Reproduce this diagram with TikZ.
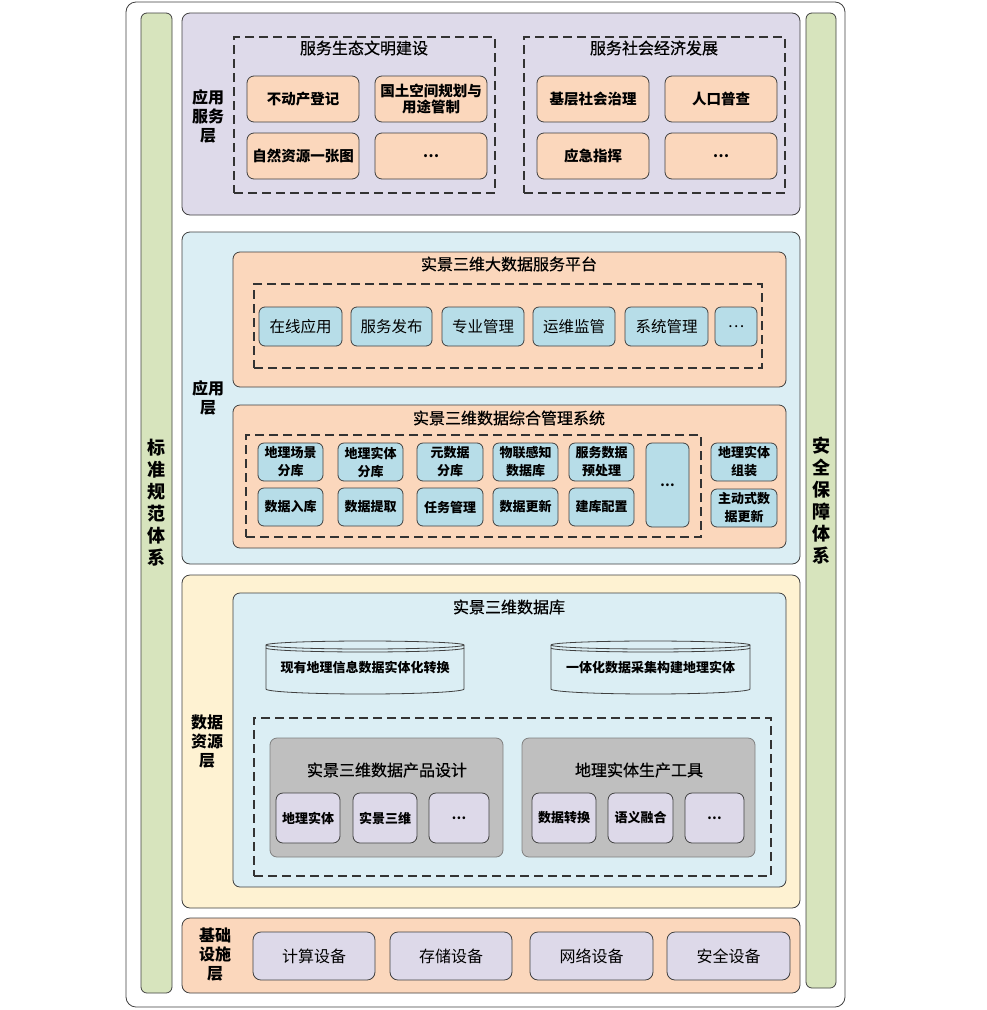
\documentclass[tikz,border=0pt]{standalone}
\usepackage{fontspec}
\setmainfont{Noto Sans CJK SC}
\newfontfamily\medfont[FakeBold=0.6]{Noto Sans CJK SC}
\definecolor{dk}{HTML}{404040}
\definecolor{grn}{HTML}{D7E4BD}
\definecolor{lav}{HTML}{DEDAEA}
\definecolor{org}{HTML}{FBD7BC}
\definecolor{lbl}{HTML}{DBEEF4}
\definecolor{blu}{HTML}{B7DDE8}
\definecolor{ylw}{HTML}{FEF2D2}
\definecolor{gry}{HTML}{BFBFBF}
\definecolor{lavb}{HTML}{DDD9E9}
\newcommand\fs[2]{\fontsize{#1}{#2}\selectfont}
\newcommand\bx[7]{\node[#6, minimum width={(#4-#2)*1pt}, minimum height={(#5-#3)*1pt}] (#1) at ({(#2+#4)/2},{(#3+#5)/2}) {#7};}
\tikzset{
  base/.style={draw=dk, line width=0.8pt, inner sep=0pt, outer sep=0pt, align=center},
  panel/.style={base, rounded corners=8pt},
  obox/.style={base, fill=org, rounded corners=7pt, font=\fs{14.5}{16}\bfseries},
  pbox/.style={base, fill=blu, rounded corners=6pt, font=\fs{15.5}{18}},
  mbox/.style={base, fill=blu, rounded corners=6pt, font=\fs{13}{18}\bfseries},
  sbox/.style={base, fill=lavb, rounded corners=7pt, font=\fs{13}{16}\bfseries},
  ibox/.style={base, fill=lavb, rounded corners=8pt, font=\fs{16}{18}},
  dashbox/.style={draw=black!80, line width=1.2pt, dash pattern=on 9pt off 5pt, inner sep=0pt, outer sep=0pt},
  lyr/.style={font=\fs{16}{19}\bfseries, align=center, inner sep=0pt},
  ttl/.style={font=\fs{16}{19}\medfont, inner sep=0pt},
  vbar/.style={panel, fill=grn, rounded corners=6pt, font=\fs{18}{22}\bfseries},
  cyltext/.style={font=\fs{13}{15}\bfseries, inner sep=0pt},
  cylline/.style={draw=dk, line width=0.8pt},
}
\newcommand\cyl[4]{%
  \pgfmathsetmacro\cx{(#2+#3)/2}\pgfmathsetmacro\rx{(#3-#2)/2}%
  \filldraw[cylline, fill=lbl] (#2,645) -- (#2,689) arc[start angle=180, end angle=0, x radius=\rx, y radius=5] -- (#3,645) arc[start angle=0, end angle=-180, x radius=\rx, y radius=4] -- cycle;
  \draw[cylline] (#2,645) arc[start angle=180, end angle=0, x radius=\rx, y radius=4];
  \draw[cylline] (#2,648) arc[start angle=180, end angle=0, x radius=\rx, y radius=4];
  \node[cyltext] (#1) at (\cx,667) {#4};
}
\begin{document}
\begin{tikzpicture}[x=1pt,y=-1pt]
\useasboundingbox (0,0) rectangle (986,1010);
% outer frame and side bars
\bx{outer}{126}{2}{845}{1007}{panel, fill=white, rounded corners=10pt}{}
\bx{lbar}{141}{13}{172}{993}{vbar}{标\\准\\规\\范\\体\\系}
\bx{rbar}{806}{13}{836}{988}{vbar}{安\\全\\保\\障\\体\\系}

% ===== Layer 1: 应用服务层
\bx{L1}{182}{13}{800}{215}{panel, fill=lav}{}
\node[lyr] (L1t) at (208,116) {应用\\服务\\层};
\bx{D1}{234}{37}{495}{193}{dashbox}{}
\node[ttl] (T1) at (364,48) {服务生态文明建设};
\bx{a1}{247}{76}{359}{122}{obox}{不动产登记}
\bx{a2}{375}{76}{487}{122}{obox}{国土空间规划与\\用途管制}
\bx{a3}{247}{133}{359}{179}{obox}{自然资源一张图}
\bx{a4}{375}{133}{487}{179}{obox}{…}
\bx{D2}{524}{37}{785}{193}{dashbox}{}
\node[ttl] (T2) at (654,48) {服务社会经济发展};
\bx{b1}{537}{76}{649}{122}{obox}{基层社会治理}
\bx{b2}{665}{76}{777}{122}{obox}{人口普查}
\bx{b3}{537}{133}{649}{179}{obox}{应急指挥}
\bx{b4}{665}{133}{777}{179}{obox}{…}

% ===== Layer 2: 应用层
\bx{L2}{182}{232}{800}{564}{panel, fill=lbl}{}
\node[lyr] (L2t) at (208,398) {应用\\层};
\bx{P}{233}{252}{786}{387}{panel, fill=org, rounded corners=7pt}{}
\node[ttl] (PT) at (509,264) {实景三维大数据服务平台};
\bx{PD}{254}{284}{762}{368}{dashbox}{}
\bx{p1}{259}{307}{342}{346}{pbox}{在线应用}
\bx{p2}{351}{307}{432}{346}{pbox}{服务发布}
\bx{p3}{442}{307}{524}{346}{pbox}{专业管理}
\bx{p4}{533}{307}{615}{346}{pbox}{运维监管}
\bx{p5}{625}{307}{708}{346}{pbox}{系统管理}
\bx{p6}{715}{307}{757}{346}{pbox}{…}

\bx{M}{233}{405}{786}{548}{panel, fill=org, rounded corners=7pt}{}
\node[ttl] (MT) at (509,418) {实景三维数据综合管理系统};
\bx{MD}{246}{435}{701}{537}{dashbox}{}
\bx{m1}{258}{443}{323}{481}{mbox}{地理场景\\分库}
\bx{m2}{338}{443}{403}{481}{mbox}{地理实体\\分库}
\bx{m3}{417}{443}{483}{481}{mbox}{元数据\\分库}
\bx{m4}{493}{443}{558}{481}{mbox}{物联感知\\数据库}
\bx{m5}{569}{443}{634}{481}{mbox}{服务数据\\预处理}
\bx{n1}{258}{488}{323}{526}{mbox}{数据入库}
\bx{n2}{338}{488}{403}{526}{mbox}{数据提取}
\bx{n3}{417}{488}{483}{526}{mbox}{任务管理}
\bx{n4}{493}{488}{558}{526}{mbox}{数据更新}
\bx{n5}{569}{488}{634}{526}{mbox}{建库配置}
\bx{m6}{646}{443}{689}{527}{mbox}{…}
\bx{r1}{711}{443}{777}{481}{mbox}{地理实体\\组装}
\bx{r2}{711}{489}{777}{527}{mbox}{主动式数\\据更新}

% ===== Layer 3: 数据资源层
\bx{L3}{182}{575}{800}{908}{panel, fill=ylw}{}
\node[lyr] (L3t) at (207,741) {数据\\资源\\层};
\bx{DB}{233}{593}{786}{887}{panel, fill=lbl, rounded corners=7pt}{}
\node[ttl] (DBT) at (509,607) {实景三维数据库};
\cyl{C1}{266}{464}{现有地理信息数据实体化转换}
\cyl{C2}{551}{750}{一体化数据采集构建地理实体}
\bx{DD}{254}{718}{771}{876}{dashbox}{}
\bx{G1}{270}{738}{503}{857}{panel, fill=gry, draw=gray, rounded corners=7pt}{}
\node[ttl] (G1t) at (387,770) {实景三维数据产品设计};
\bx{g1}{276}{793}{340}{843}{sbox}{地理实体}
\bx{g2}{353}{793}{417}{843}{sbox}{实景三维}
\bx{g3}{429}{793}{489}{843}{sbox}{…}
\bx{G2}{522}{738}{755}{857}{panel, fill=gry, draw=gray, rounded corners=7pt}{}
\node[ttl] (G2t) at (639,770) {地理实体生产工具};
\bx{h1}{532}{793}{596}{843}{sbox}{数据转换}
\bx{h2}{608}{793}{673}{843}{sbox}{语义融合}
\bx{h3}{685}{793}{744}{843}{sbox}{…}

% ===== Layer 4: 基础设施层
\bx{L4}{182}{918}{800}{993}{panel, fill=org}{}
\node[lyr] (L4t) at (215,955) {基础\\设施\\层};
\bx{i1}{253}{932}{375}{980}{ibox}{计算设备}
\bx{i2}{390}{932}{512}{980}{ibox}{存储设备}
\bx{i3}{530}{932}{653}{980}{ibox}{网络设备}
\bx{i4}{667}{932}{790}{980}{ibox}{安全设备}
\end{tikzpicture}
\end{document}
